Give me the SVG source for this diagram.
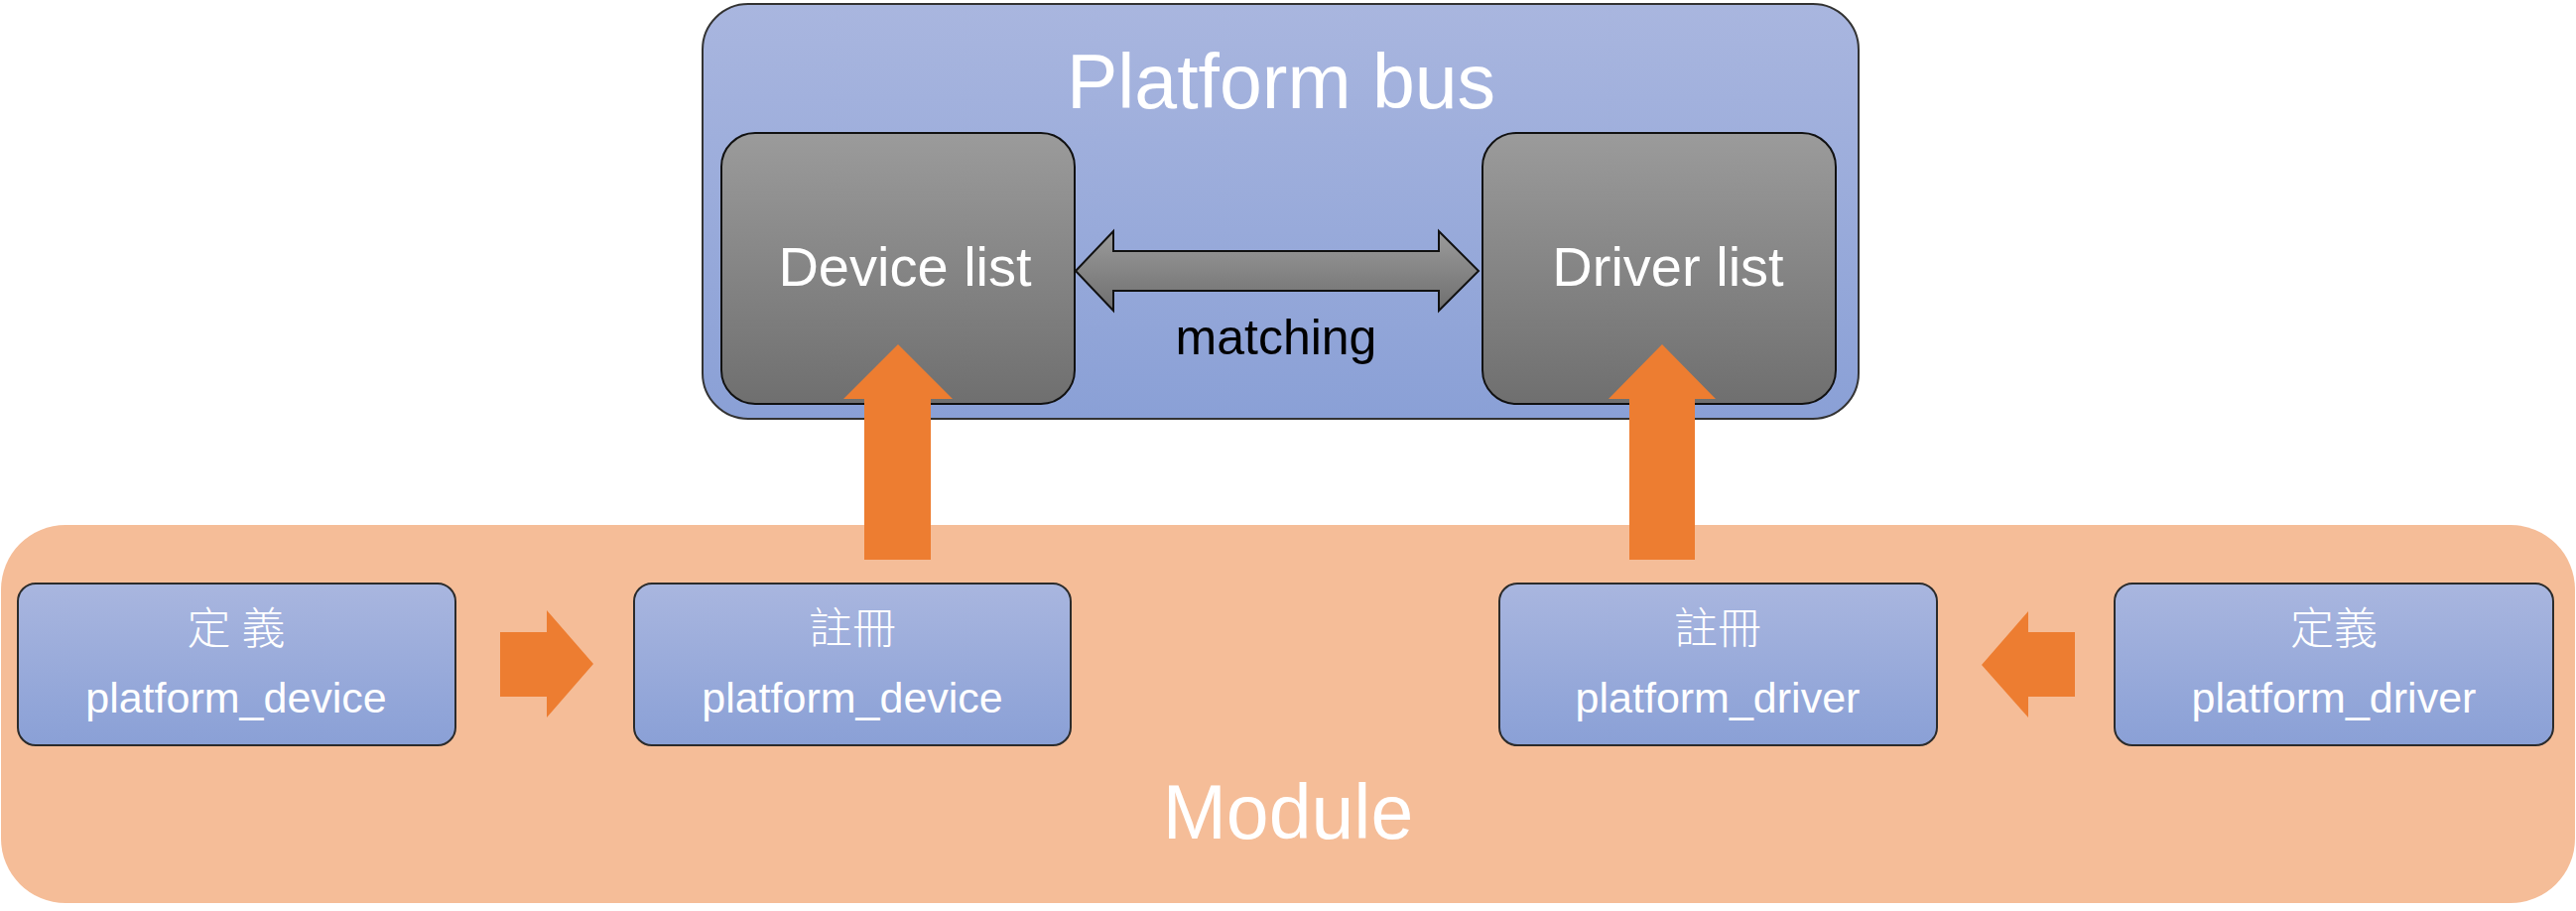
<svg xmlns="http://www.w3.org/2000/svg" width="2596" height="918" viewBox="0 0 2596 918">
<defs>
<linearGradient id="gBlue" x1="0" y1="0" x2="0" y2="1">
<stop offset="0" stop-color="#a9b6df"/>
<stop offset="1" stop-color="#8aa0d6"/>
</linearGradient>
<linearGradient id="gGray" x1="0" y1="0" x2="0" y2="1">
<stop offset="0" stop-color="#9b9b9b"/>
<stop offset="1" stop-color="#6f6f6f"/>
</linearGradient>
<style>
.big{font-family:"Liberation Sans",Arial,sans-serif;font-size:77px;fill:#ffffff;text-anchor:middle}
.list{font-family:"Liberation Sans",Arial,sans-serif;font-size:56px;fill:#ffffff;text-anchor:middle}
.lbl{font-family:"Liberation Sans",Arial,sans-serif;font-size:43px;fill:#ffffff;text-anchor:middle}
.cjk{font-family:"Liberation Serif","Noto Sans CJK TC",serif;font-size:44px;font-weight:300;fill:#ffffff;text-anchor:middle}
.sm{fill:url(#gBlue);stroke:#2b2b2b;stroke-width:2}
.gray{fill:url(#gGray);stroke:#111111;stroke-width:2}
.orange{fill:#ed7d31}
</style>
</defs>
<rect width="2596" height="918" fill="#ffffff"/>
<g id="module">
<rect x="1" y="529" width="2594" height="381" rx="65" ry="65" fill="#f5bd98"/>
<text class="big" x="1298" y="845">Module</text>
</g>
<g id="platform-bus">
<rect x="708" y="4" width="1165" height="418" rx="46" ry="46" fill="url(#gBlue)" stroke="#333333" stroke-width="2"/>
<text class="big" x="1291" y="109">Platform bus</text>
</g>
<g id="device-list">
<rect class="gray" x="727" y="134" width="356" height="273" rx="34" ry="34"/>
<text class="list" x="912" y="288">Device list</text>
</g>
<g id="driver-list">
<rect class="gray" x="1494" y="134" width="356" height="273" rx="34" ry="34"/>
<text class="list" x="1681" y="288">Driver list</text>
</g>
<g id="define-device">
<rect class="sm" x="18" y="588" width="441" height="163" rx="18" ry="18"/>
<text class="cjk" x="238" y="649">定 義</text>
<text class="lbl" x="238" y="718">platform_device</text>
</g>
<g id="register-device">
<rect class="sm" x="639" y="588" width="440" height="163" rx="18" ry="18"/>
<text class="cjk" x="859" y="649">註冊</text>
<text class="lbl" x="859" y="718">platform_device</text>
</g>
<g id="register-driver">
<rect class="sm" x="1511" y="588" width="441" height="163" rx="18" ry="18"/>
<text class="cjk" x="1731" y="649">註冊</text>
<text class="lbl" x="1731" y="718">platform_driver</text>
</g>
<g id="define-driver">
<rect class="sm" x="2131" y="588" width="442" height="163" rx="18" ry="18"/>
<text class="cjk" x="2352" y="649">定義</text>
<text class="lbl" x="2352" y="718">platform_driver</text>
</g>
<g id="connectors">
<path class="gray" d="M1084,273 L1122,233 L1122,253 L1450,253 L1450,233 L1490,273 L1450,313 L1450,293 L1122,293 L1122,313 Z"/>
<text x="1286" y="357" font-family="Liberation Sans, Arial, sans-serif" font-size="50" fill="#000000" text-anchor="middle">matching</text>
<path class="orange" d="M905,347 L960,402 L938,402 L938,564 L871,564 L871,402 L850,402 Z"/>
<path class="orange" d="M1675,347 L1729,402 L1708,402 L1708,564 L1642,564 L1642,402 L1621,402 Z"/>
<path class="orange" d="M504,637 L551,637 L551,615 L598,669 L551,723 L551,702 L504,702 Z"/>
<path class="orange" d="M2091,637 L2044,637 L2044,616 L1997,670 L2044,723 L2044,702 L2091,702 Z"/>
</g>
</svg>
